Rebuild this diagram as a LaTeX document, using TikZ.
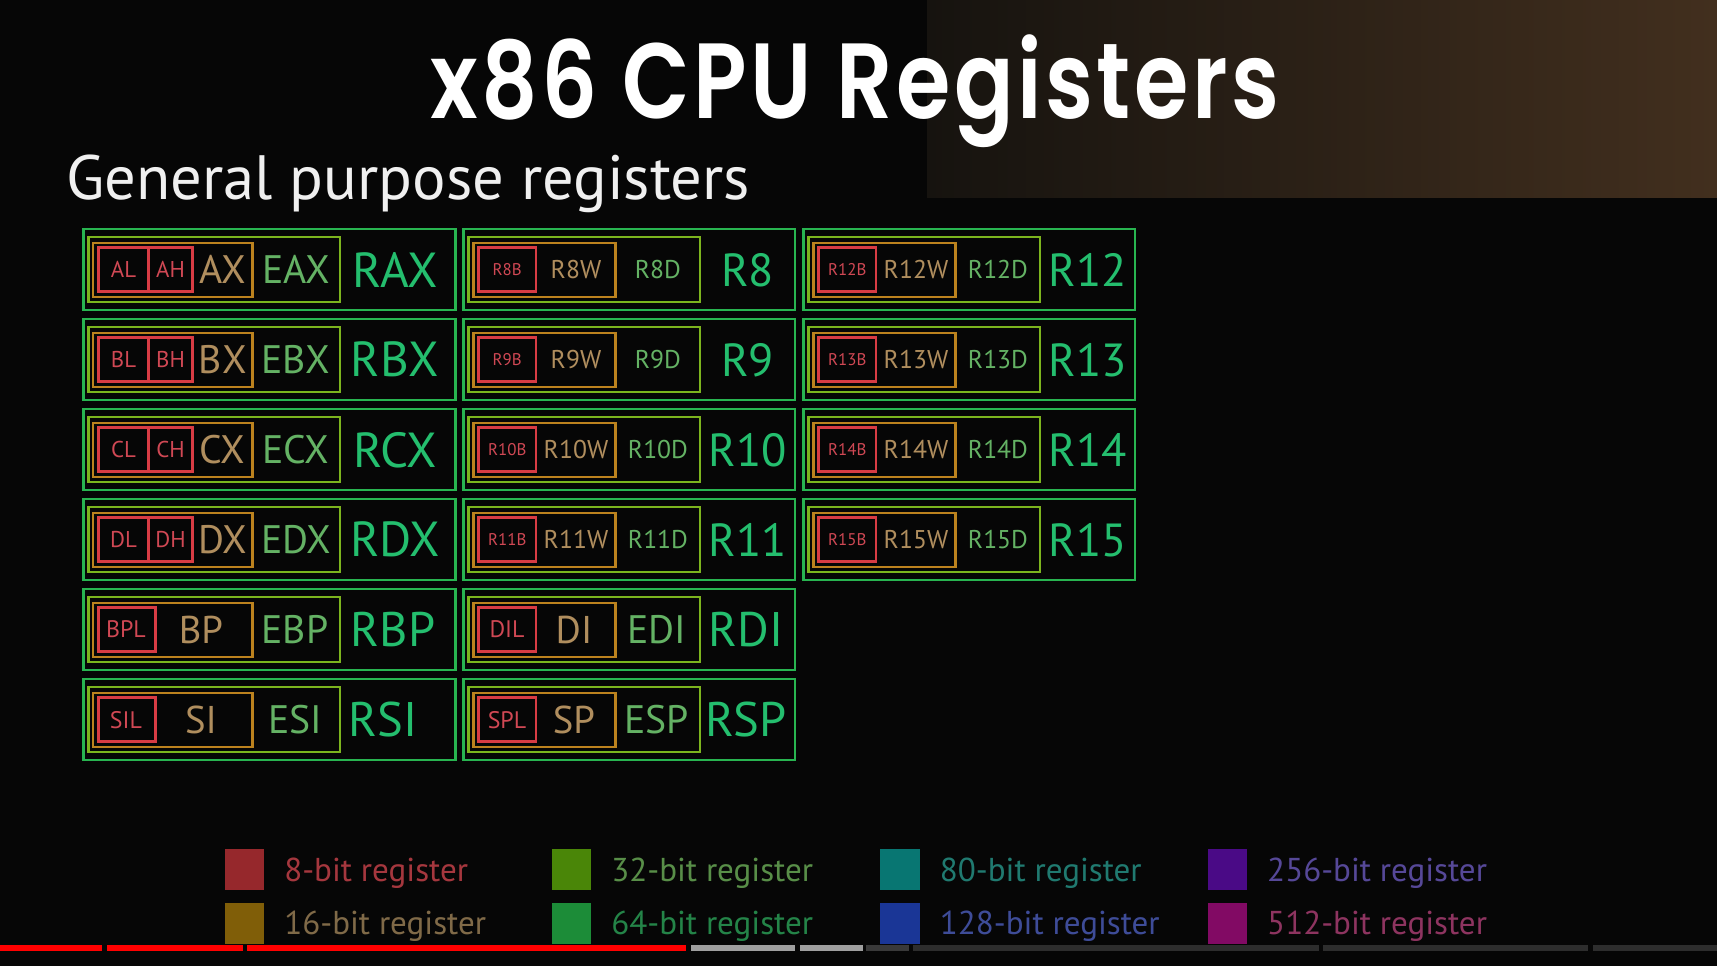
\documentclass[tikz,border=0pt]{standalone}
\usepackage{fontspec}
\setmainfont{PT Sans}
\newfontfamily\titlefont{Poppins SemiBold}[LetterSpace=4]
\usepackage{xcolor}
\usepackage{graphicx}
\usetikzlibrary{positioning}

\definecolor{bgdark}{RGB}{6,6,6}
\definecolor{panelL}{RGB}{22,19,15}
\definecolor{panelR}{RGB}{66,47,30}
\definecolor{box64}{RGB}{40,180,80}
\definecolor{box32}{RGB}{124,180,30}
\definecolor{box16}{RGB}{188,130,30}
\definecolor{box8}{RGB}{216,60,68}
\definecolor{txt64}{RGB}{36,190,110}
\definecolor{txt32}{RGB}{100,178,100}
\definecolor{txt16}{RGB}{176,142,94}
\definecolor{txt8}{RGB}{208,72,84}
% legend colours
\definecolor{sw8}{RGB}{150,40,44}
\definecolor{sw16}{RGB}{128,94,8}
\definecolor{sw32}{RGB}{74,134,8}
\definecolor{sw64}{RGB}{28,140,56}
\definecolor{sw80}{RGB}{8,118,114}
\definecolor{sw128}{RGB}{26,54,150}
\definecolor{sw256}{RGB}{74,10,134}
\definecolor{sw512}{RGB}{130,10,100}
\definecolor{lt8}{RGB}{165,55,62}
\definecolor{lt16}{RGB}{128,106,72}
\definecolor{lt32}{RGB}{88,142,72}
\definecolor{lt64}{RGB}{36,132,72}
\definecolor{lt80}{RGB}{32,122,112}
\definecolor{lt128}{RGB}{62,76,152}
\definecolor{lt256}{RGB}{86,72,152}
\definecolor{lt512}{RGB}{142,52,96}

\newcommand{\regsize}[1]{\fontsize{#1}{#1}\selectfont}

\begin{document}
\begin{tikzpicture}[
            x=0.01cm, y=-0.01cm,
            every node/.style={inner sep=0pt, text depth=0pt},
            bit64/.style={draw=box64, line width=0.75pt},
            bit32/.style={draw=box32, line width=0.75pt},
            bit16/.style={draw=box16, line width=0.75pt},
            bit8/.style={draw=box8, line width=0.75pt},
            name64/.style={text=txt64},
            name32/.style={text=txt32},
            name16/.style={text=txt16},
            name8/.style={text=txt8},
            swatch/.style={minimum width=0.39cm, minimum height=0.41cm},
            legend text/.style={font=\regsize{9.4}, text height=0.23cm}
        ]

        \useasboundingbox (0,0) rectangle (1717,966);
        \fill[bgdark] (0,0) rectangle (1717,966);
        \shade[left color=panelL, right color=panelR] (927,0) rectangle (1717,197);

        \node[text=white, font=\titlefont\regsize{30.4}, anchor=base] (title) at (855,118) {\scalebox{0.823}[1]{x86 CPU Registers}};
        \node[text=white!94!black, font=\regsize{17.8}, anchor=base west] (subtitle) at (65.7,199) {General purpose registers};

        % RAX .. RDX
        \foreach \row/\reg in {0/A,1/B,2/C,3/D}{
            \pgfmathsetmacro{\rowy}{229+90*\row}
            \draw[bit64] (83.5,\rowy) rectangle ++(372,81);
            \draw[bit32] (88.5,\rowy+8) rectangle ++(251.5,65);
            \draw[bit16] (93,\rowy+14) rectangle ++(159.7,54);
            \draw[bit8] (98.5,\rowy+18.5) rectangle ++(50,44);
            \draw[bit8] (148.5,\rowy+18.5) rectangle ++(44.2,44);
            \node[name8, font=\regsize{6.5}] (\reg L) at (123.5,\rowy+40.5) {\reg L};
            \node[name8, font=\regsize{6.5}] (\reg H) at (170.6,\rowy+40.5) {\reg H};
            \node[name16, font=\regsize{11.3}] (\reg X) at (222.7,\rowy+40.5) {\reg X};
            \node[name32, font=\regsize{11.3}] (E\reg X) at (296,\rowy+40.5) {E\reg X};
            \node[name64, font=\regsize{14}] (R\reg X) at (395,\rowy+40.5) {R\reg X};
        }

        % RBP, RSI
        \foreach \row/\reg/\rx in {4/BP/393,5/SI/383}{
            \pgfmathsetmacro{\rowy}{229+90*\row}
            \draw[bit64] (83.5,\rowy) rectangle ++(372,81);
            \draw[bit32] (88.5,\rowy+8) rectangle ++(251.5,65);
            \draw[bit16] (93,\rowy+14) rectangle ++(159.7,54);
            \draw[bit8] (98.5,\rowy+18.5) rectangle ++(57,44);
            \node[name8, font=\regsize{6.8}] (\reg L) at (126,\rowy+40.5) {\reg L};
            \node[name16, font=\regsize{11}] (\reg) at (201,\rowy+40.5) {\reg};
            \node[name32, font=\regsize{11.3}] (E\reg) at (295,\rowy+40.5) {E\reg};
            \node[name64, font=\regsize{13.8}] (R\reg) at (\rx,\rowy+40.5) {R\reg};
        }

        % R8 .. R15
        \foreach \colx/\first in {463.5/8,803.5/12}{
            \foreach \row in {0,...,3}{
                \pgfmathtruncatemacro{\num}{\first+\row}
                \pgfmathsetmacro{\rowy}{229+90*\row}
                \draw[bit64] (\colx,\rowy) rectangle ++(331.5,81);
                \draw[bit32] (\colx+5,\rowy+8) rectangle ++(231.5,65);
                \draw[bit16] (\colx+10,\rowy+14) rectangle ++(142,54);
                \draw[bit8] (\colx+15,\rowy+18.5) rectangle ++(57.5,44);
                \node[name8, font=\regsize{4.8}] (R\num B) at (\colx+43.75,\rowy+40.5) {R\num B};
                \node[name16, font=\regsize{7.3}] (R\num W) at (\colx+112.5,\rowy+40.5) {R\num W};
                \node[name32, font=\regsize{7.3}] (R\num D) at (\colx+194.5,\rowy+40.5) {R\num D};
                \node[name64, font=\regsize{13.2}] (R\num) at (\colx+284,\rowy+40.5) {R\num};
            }
        }

        % RDI, RSP
        \foreach \row/\reg in {4/DI,5/SP}{
            \pgfmathsetmacro{\rowy}{229+90*\row}
            \draw[bit64] (463.5,\rowy) rectangle ++(331.5,81);
            \draw[bit32] (468.5,\rowy+8) rectangle ++(231.5,65);
            \draw[bit16] (473.5,\rowy+14) rectangle ++(142,54);
            \draw[bit8] (478.5,\rowy+18.5) rectangle ++(57.5,44);
            \node[name8, font=\regsize{6.8}] (\reg L) at (507,\rowy+40.5) {\reg L};
            \node[name16, font=\regsize{11}] (\reg) at (574,\rowy+40.5) {\reg};
            \node[name32, font=\regsize{11.3}] (E\reg) at (656.5,\rowy+40.5) {E\reg};
            \node[name64, font=\regsize{13.8}] (R\reg) at (746,\rowy+40.5) {R\reg};
        }

        % legend
        \foreach \bits/\cx/\cy in {8/244.4/869.5,16/244.4/923,32/571.4/869.5,64/571.4/923,
                                   80/900/869.5,128/900/923,256/1227.3/869.5,512/1227.3/923}{
            \node[swatch, fill=sw\bits] (sw\bits) at (\cx,\cy) {};
            \node[legend text, text=lt\bits, right=0.19cm of sw\bits] (lg\bits) {\bits-bit register};
        }

        % video progress bar
        \fill[red] (0,945) rectangle (102,951);
        \fill[red] (107,945) rectangle (243,951);
        \fill[red] (247,945) rectangle (686,951);
        \fill[gray!75] (691,945) rectangle (795,951);
        \fill[gray!75] (800,945) rectangle (863,951);
        \fill[gray!45!black] (866,945) rectangle (909,951);
        \fill[gray!35!black] (913,945) rectangle (1319,951);
        \fill[gray!35!black] (1323,945) rectangle (1588,951);
        \fill[gray!35!black] (1593,945) rectangle (1717,951);
\end{tikzpicture}
\end{document}
